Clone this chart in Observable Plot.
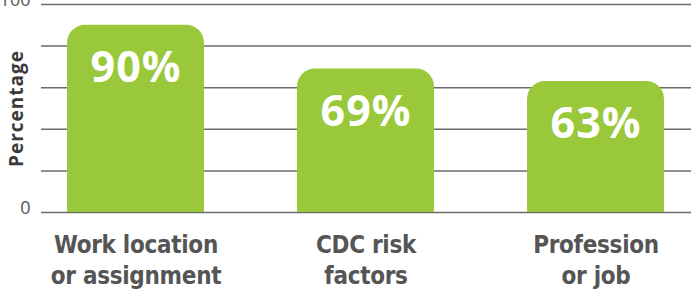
<!DOCTYPE html>
<html>
<head>
<meta charset="utf-8">
<script src="https://cdn.jsdelivr.net/npm/d3@7"></script>
<script src="https://cdn.jsdelivr.net/npm/@observablehq/plot@0.6"></script>
<style>
  html, body { margin: 0; padding: 0; background: #fff; }
  #chart { width: 698px; height: 290px; overflow: hidden; }
  .xlab text { letter-spacing: -0.3px; }
  .ylab text { letter-spacing: 1px; }
  .vlab text { letter-spacing: 1px; }
</style>
</head>
<body>
<div id="chart"></div>
<script>
const categories = ["Work location\nor assignment", "CDC risk\nfactors", "Profession\nor job"];
const values = [90, 69, 63];
const gridTicks = [0, 20, 40, 60, 80, 100];
const labelTicks = [0, 100];
const yLabel = "Percentage";

const data = categories.map((c, i) => ({category: c, value: values[i], label: values[i] + "%"}));

const green = "#99c93b";
const font = "'DejaVu Sans Condensed', 'Liberation Sans Narrow', sans-serif";

const chart = Plot.plot({
  width: 698,
  height: 290,
  marginTop: 4,
  marginBottom: 78,
  marginLeft: 41,
  marginRight: 7,
  style: {fontFamily: font, background: "#fff", overflow: "hidden"},
  x: {domain: categories, paddingInner: 0.403, paddingOuter: 0.113, label: null},
  y: {domain: [0, 100], label: null},
  marks: [
    Plot.ruleY(gridTicks, {stroke: "#6b6b6b", strokeWidth: 1.5}),
    Plot.barY(data, {x: "category", y: "value", fill: green, rx: 18}),
    Plot.barY(data, {x: "category", y: d => d.value / 2, fill: green}),
    Plot.text(data, {x: "category", y: "value", text: "label", dy: 43, fill: "#fff",
      fontSize: 43, fontWeight: "bold", fontFamily: "'Open Sans', sans-serif", className: "vlab"}),
    Plot.axisY({ticks: labelTicks, tickSize: 0, tickPadding: 11, dy: -4, fontSize: 18,
      fill: "#555", label: null, fontFamily: "'Open Sans', sans-serif"}),
    Plot.axisX({tickSize: 0, tickPadding: 18, fontSize: 24, fontWeight: "bold",
      fill: "#555", lineHeight: 1.31, label: null, className: "xlab"}),
    Plot.text([yLabel], {frameAnchor: "left", dx: -25, rotate: -90, textAnchor: "middle",
      fontSize: 19, fontWeight: "bold", fill: "#3a3a3a", fontFamily: "'Open Sans', sans-serif",
      className: "ylab"})
  ]
});
document.getElementById("chart").appendChild(chart);
</script>
</body>
</html>
